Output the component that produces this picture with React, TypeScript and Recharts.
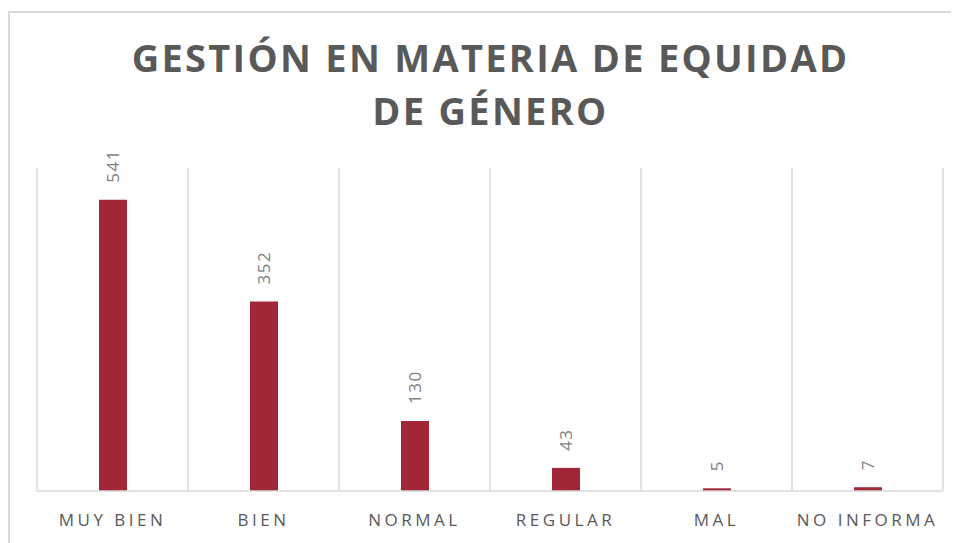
import React from "react";
import { BarChart, Bar, XAxis, YAxis, CartesianGrid, LabelList } from "recharts";

const categories = ["MUY BIEN", "BIEN", "NORMAL", "REGULAR", "MAL", "NO INFORMA"];
const values = [541, 352, 130, 43, 5, 7];

const titleLines = ["GESTIÓN EN MATERIA DE EQUIDAD", "DE GÉNERO"];

const data = categories.map((name, i) => ({ name, value: values[i] }));

const FONT = "'Open Sans', 'Noto Sans', sans-serif";

const CategoryTick = (props: any) => {
  const { x, y, payload } = props;
  return (
    <text
      x={x}
      y={y}
      dy={23}
      textAnchor="middle"
      fill="#595959"
      fontFamily={FONT}
      fontSize={17}
      letterSpacing={3.5}
    >
      {payload.value}
    </text>
  );
};

const ValueLabel = (props: any) => {
  const { x, y, width, value } = props;
  const cx = x + width / 2 + 6;
  const cy = y - 17;
  return (
    <text
      x={cx}
      y={cy}
      transform={`rotate(-90 ${cx} ${cy})`}
      textAnchor="start"
      fill="#7f7f7f"
      fontFamily={FONT}
      fontSize={17}
      letterSpacing={1.5}
    >
      {value}
    </text>
  );
};

export default function App() {
  return (
    <div
      style={{
        position: "relative",
        marginTop: 3,
        width: 951,
        height: 532,
        boxSizing: "border-box",
        borderTop: "2px solid #d9d9d9",
        borderLeft: "2px solid #d9d9d9",
        borderRight: "2px solid #d9d9d9",
        background: "#fff",
      }}
    >
      <div
        style={{
          position: "absolute",
          left: 14,
          right: 0,
          top: 18,
          textAlign: "center",
          fontFamily: FONT,
          fontWeight: 700,
          fontSize: 38,
          lineHeight: "53px",
          letterSpacing: 2.3,
          color: "#595959",
        }}
      >
        {titleLines.map((t) => (
          <div key={t}>{t}</div>
        ))}
      </div>
      <BarChart
        width={947}
        height={530}
        data={data}
        margin={{ top: 155, right: 14, left: 27, bottom: 12 }}
        barCategoryGap="40%"
      >
        <CartesianGrid
          horizontal={false}
          stroke="#d9d9d9"
          strokeWidth={1.5}
          verticalCoordinatesGenerator={({ offset }: any) =>
            categories
              .map((_, i) => offset.left + (i * offset.width) / categories.length)
              .concat([offset.left + offset.width])
          }
        />
        <XAxis
          dataKey="name"
          axisLine={{ stroke: "#d9d9d9", strokeWidth: 1.5 }}
          tickLine={false}
          tickSize={0}
          tickMargin={12}
          height={40}
          interval={0}
          tick={<CategoryTick />}
        />
        <YAxis hide domain={[0, 600]} />
        <Bar dataKey="value" fill="#A02638" barSize={28} isAnimationActive={false}>
          <LabelList dataKey="value" content={<ValueLabel />} />
        </Bar>
      </BarChart>
    </div>
  );
}
